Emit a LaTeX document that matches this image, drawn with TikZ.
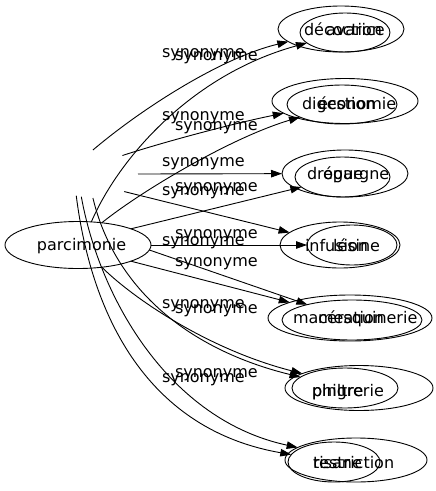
\documentclass[tikz,border=0pt]{standalone}
\usepackage{fontspec}
\setmainfont{DejaVu Sans}
\usetikzlibrary{arrows.meta,shapes.geometric}
\begin{document}
\begin{tikzpicture}[x=1pt,y=-1pt,
  every node/.style={font=\fontsize{16}{19}\selectfont, inner sep=0pt, outer sep=0pt},
  ell/.style={draw, ellipse, line width=0.9pt},
  hid/.style={ellipse},
  word/.style={anchor=base west},
  lab/.style={anchor=base west},
  edge/.style={draw, line width=0.9pt, -{Triangle[length=11pt,width=7.5pt]}}
]
\useasboundingbox (0,0) rectangle (436,491);

% source nodes
\node[ell, minimum width=146pt, minimum height=47pt] (pA) at (78,245) {};
\node[word] (tA) at (37,250.5) {parcimonie};
\node[hid, minimum width=86pt, minimum height=48pt] (pB) at (95,174) {};

% target ellipses
\node[ell, minimum width=126pt, minimum height=46pt] (r1o) at (341,29) {};
\node[ell, minimum width=90pt, minimum height=39pt] (r1i) at (345,32.5) {};
\node[ell, minimum width=146pt, minimum height=45pt] (r2o) at (345,101) {};
\node[ell, minimum width=110pt, minimum height=39pt] (r2i) at (342,104.5) {};
\node[ell, minimum width=126pt, minimum height=47pt] (r3o) at (345,173.5) {};
\node[ell, minimum width=95pt, minimum height=40pt] (r3i) at (342.5,177) {};
\node[ell, minimum width=120pt, minimum height=46pt] (r4o) at (340,245) {};
\node[ell, minimum width=90pt, minimum height=40pt] (r4i) at (352,245) {};
\node[ell, minimum width=164pt, minimum height=46pt] (r5o) at (350,318) {};
\node[ell, minimum width=140pt, minimum height=40pt] (r5i) at (352,320) {};
\node[ell, minimum width=148pt, minimum height=45pt] (r6o) at (359,388) {};
\node[ell, minimum width=106pt, minimum height=40pt] (r6i) at (345,388) {};
\node[ell, minimum width=142pt, minimum height=44pt] (r7o) at (356,460) {};
\node[ell, minimum width=92pt, minimum height=40pt] (r7i) at (334,462) {};

% words
\node[word] (w1b) at (304,35) {décoction};
\node[word] (w1a) at (326,35) {avarice};
\node[word] (w2b) at (302,109) {digestion};
\node[word] (w2a) at (318,109) {économie};
\node[word] (w3b) at (307,179) {drogue};
\node[word] (w3a) at (323,179) {épargne};
\node[word] (w4b) at (305,251) {infusion};
\node[word] (w4a) at (333,251) {lésine};
\node[word] (w5b) at (293,323.5) {macération};
\node[word] (w5a) at (318,323.5) {mesquinerie};
\node[word] (w6b) at (312,396) {philtre};
\node[word] (w6a) at (312,396) {pingrerie};
\node[word] (w7b) at (313,468) {tisane};
\node[word] (w7a) at (313,468) {restriction};

% edges
\draw[edge] (pB.95) .. controls (140,110) and (220,58) .. (r1o);
\draw[edge] (pA.60) .. controls (118,160) and (190,75) .. (r1i);
\draw[edge] (pB.34) .. controls (170,140) and (240,122) .. (r2o);
\draw[edge] (pA.43) .. controls (140,192) and (230,138) .. (r2i);
\draw[edge] (pB.east) -- (r3o);
\draw[edge] (pA.17) -- (r3i);
\draw[edge] (pB.-31) -- (r4o);
\draw[edge] (pA.east) -- (r4i);
\draw[edge] (pA.-17) -- (r5o);
\draw[edge] (pA.-4) -- (r5i);
\draw[edge] (pB.-95) .. controls (115,290) and (190,350) .. (r6i);
\draw[edge] (pA.-43) .. controls (135,300) and (210,350) .. (r6o);
\draw[edge] (pB.-131) .. controls (92,320) and (150,430) .. (r7i);
\draw[edge] (pB.-121) .. controls (100,300) and (170,420) .. (r7o);

% labels
\node[lab] (l1a) at (162,57) {synonyme};
\node[lab] (l1b) at (175,60) {synonyme};
\node[lab] (l2a) at (162,120.5) {synonyme};
\node[lab] (l2b) at (175,130) {synonyme};
\node[lab] (l3a) at (162,166.5) {synonyme};
\node[lab] (l3b) at (175,191.5) {synonyme};
\node[lab] (l3c) at (162,195.5) {synonyme};
\node[lab] (l4a) at (175,238.5) {synonyme};
\node[lab] (l4b) at (162,245) {synonyme};
\node[lab] (l4c) at (175,266.5) {synonyme};
\node[lab] (l5a) at (162,308) {synonyme};
\node[lab] (l5b) at (175,313) {synonyme};
\node[lab] (l6a) at (175,377) {synonyme};
\node[lab] (l6b) at (162,382) {synonyme};
\end{tikzpicture}
\end{document}
